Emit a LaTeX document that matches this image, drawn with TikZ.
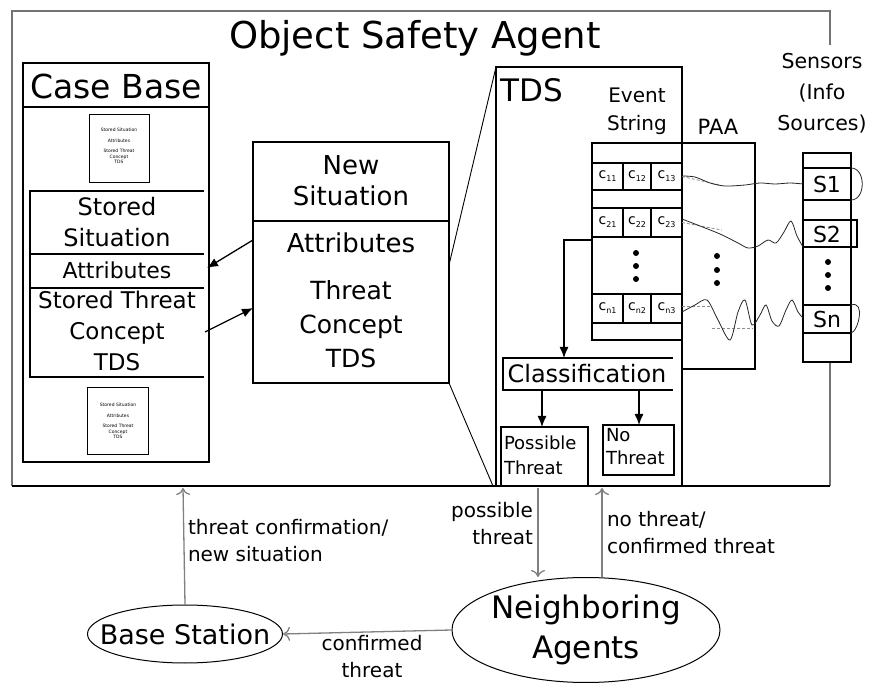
\documentclass[tikz,border=0pt]{standalone}
\usepackage{fontspec}
\setmainfont{DejaVu Sans}
\usetikzlibrary{shapes.geometric,fit,arrows.meta}
\newcommand\fsz[2]{\fontsize{#1}{#2}\selectfont}
\newcommand\cc[2]{c\raisebox{-0.4ex}{\fsz{8}{8}#1#2}}
\tikzset{
  rbox/.style={draw, line width=1.3pt, inner sep=0pt, outer sep=0pt},
  tbox/.style={draw, line width=1.2pt, inner sep=0pt, outer sep=0pt},
  thinbox/.style={draw, line width=0.9pt, inner sep=0pt, outer sep=0pt},
  lbl/.style={inner sep=0pt, outer sep=0pt, align=center},
  big/.style={lbl, font=\fsz{26}{31}},
  mid/.style={lbl, font=\fsz{22}{28}},
  small/.style={lbl, font=\fsz{20}{27}},
  tiny/.style={lbl, font=\fsz{4.5}{5.5}},
  cell/.style={lbl, font=\fsz{14}{14}},
  blk/.style={line width=1.3pt, -{Latex[length=11pt,width=9pt]}},
  garr/.style={draw=black!50, line width=1.3pt, -{To[length=7pt,width=14pt]}},
  wave/.style={line width=0.8pt, black!85},
  gdash/.style={densely dashed, line width=0.8pt, black!45},
  dot/.style={circle, fill=black, inner sep=0pt, minimum size=6pt},
}
\begin{document}
\begin{tikzpicture}[x=1pt,y=-1pt]
\useasboundingbox (0,0) rectangle (871,684);
% outer agent frame
\draw[black!55, line width=2pt] (830,45) -- (830,11) -- (12,11) -- (12,486);
\draw[black!55, line width=1.3pt] (830,362) -- (830,486);
\draw[black, line width=1.8pt] (12,486) -- (830,486);
\node[lbl, font=\fsz{37}{42}] (title) at (415,38) {Object Safety Agent};

% Case base
\node[rbox, fit={(23,63) (209,462)}] (cb) {};
\draw[line width=1.3pt] (23,107) -- (209,107);
\node[lbl, font=\fsz{33}{38}] (cbt) at (116,86) {Case Base};
\node[thinbox, fit={(89,114) (149,182)}] (sb1) {};
\node[tiny] (sb1t) at (119,146) {Stored Situation\\[5pt]Attributes\\[5pt]Stored Threat\\Concept\\TDS};
\node[thinbox, fit={(87,387) (148,454)}] (sb2) {};
\node[tiny] (sb2t) at (118,421) {Stored Situation\\[5pt]Attributes\\[5pt]Stored Threat\\Concept\\TDS};
\draw[line width=1.3pt] (204,191) -- (30,191) -- (30,377) -- (204,377);
\draw[line width=1.1pt] (30,254) -- (204,254);
\draw[line width=1.1pt] (30,288) -- (204,288);
\node[lbl, font=\fsz{24}{31}] (cbs) at (117,222) {Stored\\Situation};
\node[lbl, font=\fsz{22}{28}] (cba) at (117,270) {Attributes};
\node[lbl, font=\fsz{23}{31}] (cbc) at (117,331) {Stored Threat\\Concept\\TDS};
\coordinate (cbain) at (207,268);
\coordinate (cbcout) at (205,332);

% New situation
\node[rbox, fit={(253,142) (449,383)}] (ns) {};
\draw[line width=1.2pt] (253,221) -- (449,221);
\node[big] (nst) at (351,181) {New\\Situation};
\node[big] (nsa) at (351,243) {Attributes};
\node[big, font=\fsz{25}{34}] (nsc) at (351,324) {Threat\\Concept\\TDS};
\coordinate (nsaout) at (253,240);
\coordinate (nscin) at (253,308);
\draw[blk] (nsaout) -- (cbain);
\draw[blk] (cbcout) -- (nscin);

% TDS
\node[rbox, fit={(496,67) (682,486)}] (tds) {};
\node[lbl, font=\fsz{31}{36}] (tdst) at (532,90) {TDS};
\coordinate (nstr) at (449,265);
\coordinate (nsbr) at (449,383);
\draw[line width=0.9pt] (nstr) -- (tds.north west);
\draw[line width=0.9pt] (nsbr) -- (493,486);

% Event string
\node[tbox, fit={(592,143) (682,340)}] (es) {};
\node[lbl, font=\fsz{20}{28}] (est) at (637,111) {Event\\String};
\node[tbox, fit={(682,143) (755,369)}] (paa) {};
\node[lbl, font=\fsz{21}{25}] (paat) at (718,127) {PAA};
% rows of cells
\foreach \r/\ya/\yb/\lab in {1/163/190/1, 2/208/237/2, 3/294/323/n}{
  \node[tbox, fit={(592,\ya) (623,\yb)}] (c\r a) {};
  \node[tbox, fit={(623,\ya) (651,\yb)}] (c\r b) {};
  \node[tbox, fit={(651,\ya) (682,\yb)}] (c\r c) {};
  \node[cell] at (c\r a) {\cc{\lab}{1}};
  \node[cell] at (c\r b) {\cc{\lab}{2}};
  \node[cell] at (c\r c) {\cc{\lab}{3}};
}
\draw[line width=2.4pt] (623,163) -- (623,190);
\draw[line width=2pt] (592,208) rectangle (682,237);
\draw[line width=2pt] (592,294) rectangle (682,323);
\node[dot] (ed1) at (636,253) {};
\node[dot] (ed2) at (636,266) {};
\node[dot] (ed3) at (636,279) {};
\node[dot] (pd1) at (717,256) {};
\node[dot] (pd2) at (717,270) {};
\node[dot] (pd3) at (717,283) {};

% Sensors
\node[lbl, font=\fsz{20.5}{31}] (sent) at (822,93) {Sensors\\(Info\\Sources)};
\node[tbox, fit={(803,153) (851,362)}] (sen) {};
\node[tbox, fit={(803,168) (851,200)}] (s1) {};
\node[tbox, fit={(803,220) (857,247)}] (s2) {};
\node[tbox, fit={(803,305) (851,333)}] (sn) {};
\node[mid] (s1t) at (827,184) {S1};
\node[mid] (s2t) at (827,234) {S2};
\node[mid] (snt) at (827,319) {Sn};
\node[dot] (sd1) at (828,262) {};
\node[dot] (sd2) at (828,275) {};
\node[dot] (sd3) at (828,288) {};
\draw[wave] (s1.north east) .. controls (866,168) and (866,200) .. (s1.south east);
\draw[wave] (sn.north east) .. controls (866,300) and (858,332) .. (sn.south east);

% waves
\draw[gdash] (c1c.east) -- (720,185);
\draw[gdash] (c2c.east) -- (722,230);
\draw[gdash] (682,306) -- (712,306);
\draw[gdash] (712,328) -- (753,328);
\draw[wave] plot[smooth] coordinates {(682,176) (695,177) (710,183) (725,186) (745,185) (760,183) (775,184) (790,183) (803,184)};
\draw[wave] plot[smooth] coordinates {(682,219) (700,226) (720,234) (738,243) (748,248) (758,246) (768,240) (776,243) (784,232) (791,221) (797,236) (803,247)};
\draw[wave] plot[smooth] coordinates {(682,312) (695,305) (707,300) (718,320) (730,340) (738,312) (745,300) (752,325) (760,315) (766,305) (772,321) (779,326) (786,310) (792,300) (798,312) (803,318)};

% Classification
\draw[line width=1.2pt] (673,358) -- (503,358) -- (503,390) -- (673,390);
\node[lbl, font=\fsz{24}{28}] (cls) at (587,374) {Classification};
\coordinate (clsin) at (564,358);
\coordinate (esout) at (592,240);
\draw[blk] (esout) -- (564,240) -- (clsin);
\node[tbox, fit={(501,427) (588,486)}] (pt) {};
\node[tbox, fit={(603,425) (674,475)}] (nt) {};
\node[lbl, font=\fsz{18}{25}, align=left, anchor=west] (ptt) at (504,455) {Possible\\Threat};
\node[lbl, font=\fsz{18}{23}, align=left, anchor=west] (ntt) at (606,447) {No\\Threat};
\draw[blk] (542,390) -- (pt.north -| 542,0);
\draw[blk] (639,390) -- (nt.north -| 639,0);

% bottom: external entities
\node[draw, ellipse, line width=1pt, minimum width=195pt, minimum height=58pt, inner xsep=-22pt, inner ysep=0pt, font=\fsz{27}{30}] (bs) at (185,634) {Base Station};
\node[draw, ellipse, line width=1pt, minimum width=268pt, minimum height=105pt, inner sep=0pt, font=\fsz{31}{40}, align=center] (na) at (586,630) {Neighboring\\Agents};
\coordinate (ag1) at (183,488);
\coordinate (ag2) at (538,488);
\coordinate (ag3) at (602,488);
\draw[garr] (bs.north) -- (ag1);
\draw[garr] (ag2) -- (ag2 |- na.north);
\draw[garr] (na.north -| ag3) -- (ag3);
\draw[garr] (na.west) -- (bs.east);
\node[small, align=left, anchor=west] (l1) at (188,541) {threat confirmation/\\new situation};
\node[small, align=right, anchor=east] (l2) at (533,524) {possible\\threat};
\node[small, align=left, anchor=west] (l3) at (607,533) {no threat/\\confirmed threat};
\node[small] (l4) at (372,657) {confirmed\\threat};
\end{tikzpicture}
\end{document}
